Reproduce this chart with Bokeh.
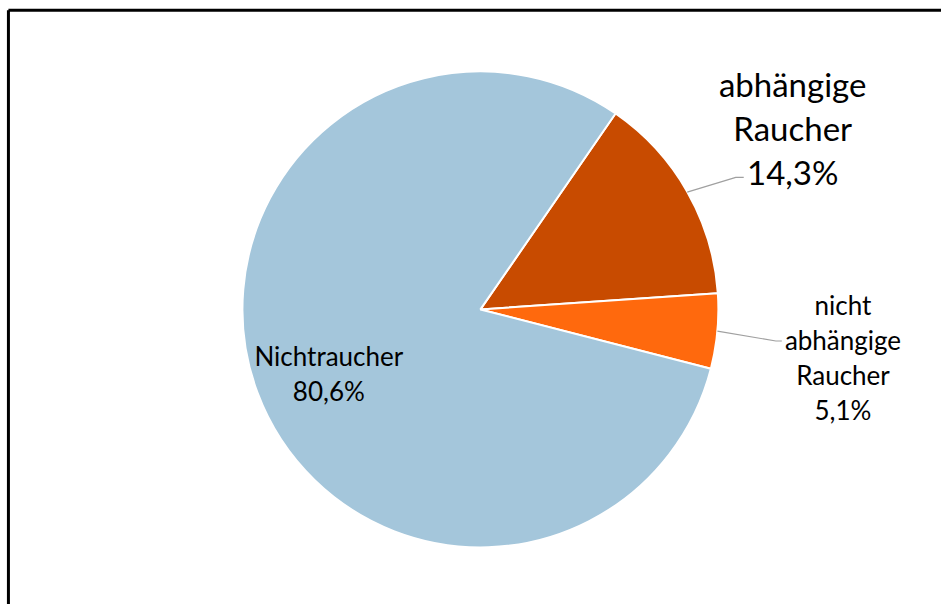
import math
from bokeh.plotting import figure
from bokeh.models import Range1d
from bokeh.core.properties import value
from bokeh.embed import file_html
from bokeh.resources import INLINE

# ---- data ----
categories = ["abhängige Raucher", "nicht abhängige Raucher", "Nichtraucher"]
shares = [14.3, 5.1, 80.6]
labels = ["abhängige\nRaucher\n14,3%", "nicht\nabhängige\nRaucher\n5,1%", "Nichtraucher\n80,6%"]
colors = ["#C84B00", "#FF690D", "#A4C6DB"]

W, H = 941, 604
RW, RH = 949, 612
p = figure(width=W, height=H, output_backend="svg", toolbar_location=None,
           x_range=Range1d(0, RW), y_range=Range1d(0, RH),
           x_axis_type=None, y_axis_type=None, min_border=0)
p.grid.visible = False
p.outline_line_color = None
p.background_fill_color = "white"
p.border_fill_color = "white"

# frame (top and left edges visible)
p.line(x=[8, RW], y=[RH - 10, RH - 10], line_color="black", line_width=3)
p.line(x=[8, 8], y=[RH - 10, 0], line_color="black", line_width=3)

cx, cy, R = 484, RH - 313, 240
start_deg = 55.4
total = sum(shares)
starts, ends, mids = [], [], []
a = start_deg
for s in shares:
    span = s / total * 360.0
    starts.append(math.radians(a))
    ends.append(math.radians(a - span))
    mids.append(math.radians(a - span / 2))
    a -= span

p.wedge(x=[cx] * 3, y=[cy] * 3, radius=R, start_angle=starts, end_angle=ends,
        direction="clock", fill_color=colors, line_color="white", line_width=2)

# label placement (radius factor, font size, line height, vertical nudge)
place = [(1.51, "33px", 1.1, 4), (1.53, "26px", 1.1, -15), (0.68, "26px", 1.08, -8)]
for i, (lbl, (rf, fs, lh, nudge)) in enumerate(zip(labels, place)):
    lx = cx + rf * R * math.cos(mids[i])
    ly = cy + rf * R * math.sin(mids[i]) + nudge
    p.text(x=[lx], y=[ly], text=[lbl], text_font=value("Lato"), text_font_size=fs,
           text_align="center", text_baseline="middle", text_line_height=lh,
           text_color="black")

# leader lines: (dx to elbow, dy to elbow, horizontal tail)
leaders = {0: (49, 15, 8), 1: (59, -10, 6)}
for i, (dx, dy, hx) in leaders.items():
    sx = cx + R * math.cos(mids[i])
    sy = cy + R * math.sin(mids[i])
    p.line(x=[sx, sx + dx, sx + dx + hx], y=[sy, sy + dy, sy + dy],
           line_color="#A0A0A0", line_width=1.2)

open("out.html", "w").write(file_html(p, INLINE))
